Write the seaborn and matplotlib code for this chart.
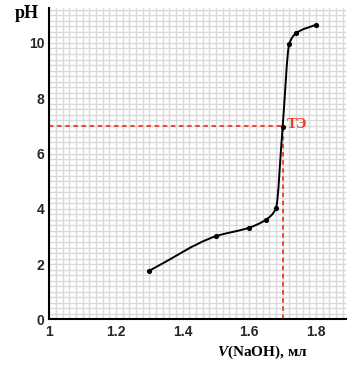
import matplotlib
matplotlib.use("Agg")
import matplotlib.pyplot as plt
from matplotlib.path import Path
from matplotlib.patches import PathPatch
import seaborn as sns
import numpy as np
import pandas as pd

# data
volume_ml = [1.30, 1.50, 1.60, 1.65, 1.68, 1.70, 1.72, 1.74, 1.80]
ph_values = [1.76, 3.01, 3.32, 3.61, 4.02, 6.96, 9.97, 10.35, 10.66]
eq_volume = 1.70
eq_ph = 7.0
eq_label = "ТЭ"
x_ticks = [1.0, 1.2, 1.4, 1.6, 1.8]
x_tick_labels = ["1", "1.2", "1.4", "1.6", "1.8"]
y_ticks = [0, 2, 4, 6, 8, 10]
y_tick_labels = ["0", "2", "4", "6", "8", "10"]

sns.set_style("white")
plt.rcParams["mathtext.fontset"] = "custom"
plt.rcParams["mathtext.it"] = "Liberation Serif:italic:bold"
plt.rcParams["mathtext.rm"] = "Liberation Serif:bold"

fig = plt.figure(figsize=(3.63, 3.65), dpi=100)
ax = fig.add_axes([0.136, 0.125, 0.817, 0.852])

df = pd.DataFrame({"V": volume_ml, "pH": ph_values})

# grid
ax.set_xlim(1.0, 1.89)
ax.set_ylim(0, 11.25)
ax.set_xticks(np.arange(1.0, 1.891, 0.02), minor=True)
ax.set_yticks(np.arange(0, 11.26, 0.2), minor=True)
ax.grid(True, which="minor", color="#dadada", linewidth=1.0)
ax.grid(True, which="major", color="#dadada", linewidth=1.0)
ax.set_axisbelow(True)

# equivalence-point guides
ax.plot([1.0, eq_volume], [eq_ph, eq_ph], color="#f03a2a", lw=1.3,
        linestyle=(0, (2.5, 2)), zorder=2)
ax.plot([eq_volume, eq_volume], [0, eq_ph], color="#f03a2a", lw=1.3,
        linestyle=(0, (2.5, 2)), zorder=2)

# smooth (monotone cubic) curve through the measured points, drawn as a Bezier path
x = np.asarray(volume_ml, float)
y = np.asarray(ph_values, float)
h = np.diff(x)
d = np.diff(y) / h
m = np.zeros_like(x)
m[0], m[-1] = d[0], d[-1]
for k in range(1, len(x) - 1):
    if d[k - 1] * d[k] > 0:
        w1 = 2 * h[k] + h[k - 1]
        w2 = h[k] + 2 * h[k - 1]
        m[k] = (w1 + w2) / (w1 / d[k - 1] + w2 / d[k])
verts = [(x[0], y[0])]
codes = [Path.MOVETO]
for k in range(len(x) - 1):
    verts += [(x[k] + h[k] / 3, y[k] + m[k] * h[k] / 3),
              (x[k + 1] - h[k] / 3, y[k + 1] - m[k + 1] * h[k] / 3),
              (x[k + 1], y[k + 1])]
    codes += [Path.CURVE4] * 3
ax.add_patch(PathPatch(Path(verts, codes), facecolor="none",
                       edgecolor="black", lw=1.4, zorder=3))

sns.scatterplot(data=df, x="V", y="pH", ax=ax, color="black", s=14,
                edgecolor="black", linewidth=0, zorder=4)

ax.text(eq_volume + 0.011, eq_ph + 0.05, eq_label, color="#f03a2a",
        fontsize=11, fontweight="bold", family="Liberation Serif",
        va="center", ha="left")

# spines & ticks
for s in ["top", "right"]:
    ax.spines[s].set_visible(False)
for s in ["left", "bottom"]:
    ax.spines[s].set_color("black")
    ax.spines[s].set_linewidth(1.5)

major_x = np.round(np.arange(1.0, 1.81, 0.1), 2)
ax.set_xticks(major_x)
ax.set_xticklabels([x_tick_labels[x_ticks.index(t)] if t in x_ticks else ""
                    for t in major_x])
major_y = np.arange(0, 12, 1)
ax.set_yticks(major_y)
ax.set_yticklabels([y_tick_labels[y_ticks.index(v)] if v in y_ticks else ""
                    for v in major_y])
ax.set_xlim(1.0, 1.89)
ax.set_ylim(0, 11.25)

ax.tick_params(axis="both", which="major", direction="inout", length=6.5,
               width=1.5, color="black", labelsize=10, pad=0.5)
ax.tick_params(axis="both", which="minor", length=0)
for lbl in ax.get_xticklabels() + ax.get_yticklabels():
    lbl.set_fontweight("bold")
    lbl.set_family("Liberation Sans")

ax.set_xlabel("")
ax.set_ylabel("")
fig.text(0.075, 0.963, "pH", fontsize=13, fontweight="bold",
         family="Liberation Serif", color="black", ha="center", va="center")
fig.text(0.722, 0.035, r"$\it{V}$(NaOH), мл", fontsize=11, fontweight="bold",
         family="Liberation Serif", color="black", ha="center", va="center")

fig.savefig("out.png", dpi=100)
